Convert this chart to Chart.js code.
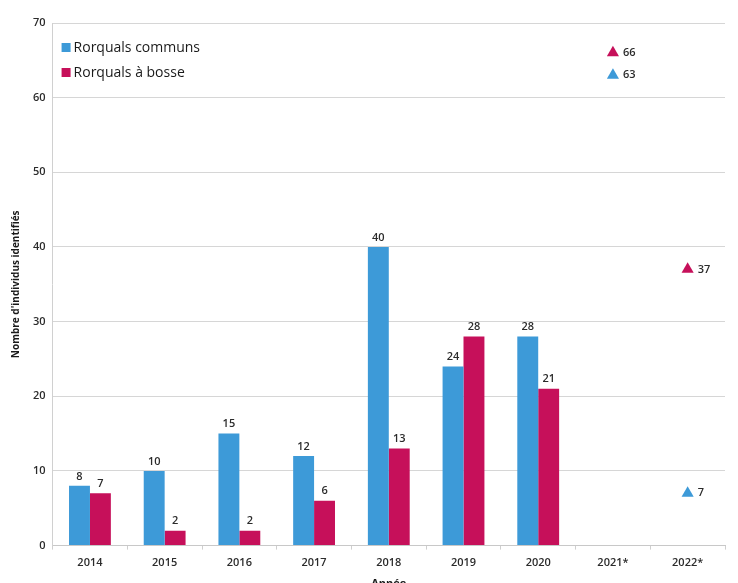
<!DOCTYPE html>
<html>
<head>
<meta charset="utf-8">
<script src="https://cdn.jsdelivr.net/npm/chart.js@4.4.0/dist/chart.umd.min.js"></script>
<style>
  html, body { margin: 0; padding: 0; background: #ffffff; overflow: hidden; }
  #wrap { width: 738px; height: 590px; position: relative; }
</style>
</head>
<body>
<div id="wrap"><canvas id="c"></canvas></div>
<script>
const categories = ['2014', '2015', '2016', '2017', '2018', '2019', '2020', '2021*', '2022*'];
const communs = [8, 10, 15, 12, 40, 24, 28, null, null];
const bosse = [7, 2, 2, 6, 13, 28, 21, null, null];
const communsEstim = [null, null, null, null, null, null, null, 63, 7];
const bosseEstim = [null, null, null, null, null, null, null, 66, 37];
const seriesNames = ['Rorquals communs', 'Rorquals à bosse'];
const yTicks = [0, 10, 20, 30, 40, 50, 60, 70];

const BLUE = '#3d9ad8';
const MAGENTA = '#c6105a';
const FONT = "'Open Sans', 'Liberation Sans', sans-serif";

const valueLabels = {
  id: 'valueLabels',
  afterDatasetsDraw(chart) {
    const ctx = chart.ctx;
    ctx.save();
    ctx.font = '600 11px ' + FONT;
    ctx.fillStyle = '#2b2b2b';
    chart.data.datasets.forEach((ds, di) => {
      const meta = chart.getDatasetMeta(di);
      meta.data.forEach((el, i) => {
        const v = ds.data[i];
        if (v === null || v === undefined) return;
        if (meta.type === 'bar') {
          ctx.textAlign = 'center';
          ctx.textBaseline = 'bottom';
          ctx.fillText(String(v), el.x, el.y - 4);
        } else {
          ctx.textAlign = 'left';
          ctx.textBaseline = 'middle';
          ctx.fillText(String(v), el.x + 10, el.y);
        }
      });
    });
    ctx.restore();
  }
};

const customLegend = {
  id: 'customLegend',
  afterDraw(chart) {
    const ctx = chart.ctx;
    const a = chart.chartArea;
    ctx.save();
    ctx.font = '14px ' + FONT;
    ctx.textBaseline = 'middle';
    ctx.textAlign = 'left';
    const cols = [BLUE, MAGENTA];
    seriesNames.forEach((n, i) => {
      const y = a.top + 25 + i * 25;
      ctx.fillStyle = cols[i];
      ctx.fillRect(a.left + 9, y - 5, 9, 9);
      ctx.fillStyle = '#1a1a1a';
      ctx.fillText(n, a.left + 21, y);
    });
    ctx.restore();
  }
};

new Chart(document.getElementById('c'), {
  data: {
    labels: categories,
    datasets: [
      { type: 'bar', label: seriesNames[0], data: communs, backgroundColor: BLUE,
        barPercentage: 1.0, categoryPercentage: 0.56 },
      { type: 'bar', label: seriesNames[1], data: bosse, backgroundColor: MAGENTA,
        barPercentage: 1.0, categoryPercentage: 0.56 },
      { type: 'line', label: seriesNames[1] + ' (estim.)', data: bosseEstim, showLine: false,
        pointStyle: 'triangle', pointRadius: 7, pointHoverRadius: 7,
        backgroundColor: MAGENTA, borderColor: MAGENTA, borderWidth: 0 },
      { type: 'line', label: seriesNames[0] + ' (estim.)', data: communsEstim, showLine: false,
        pointStyle: 'triangle', pointRadius: 7, pointHoverRadius: 7,
        backgroundColor: BLUE, borderColor: BLUE, borderWidth: 0 }
    ]
  },
  options: {
    responsive: true,
    maintainAspectRatio: false,
    animation: false,
    layout: { padding: { top: 23, right: 13, left: 10, bottom: 0 } },
    plugins: {
      legend: { display: false },
      tooltip: { enabled: false }
    },
    scales: {
      x: {
        offset: true,
        grid: { display: true, drawOnChartArea: false, drawTicks: true, tickLength: 4, color: '#cfcfcf', offset: true },
        border: { display: true, color: '#c8c8c8' },
        ticks: { color: '#2b2b2b', font: { family: FONT, size: 11, weight: '600' }, padding: 7 },
        title: { display: true, text: 'Année', color: '#1a1a1a', font: { family: FONT, size: 11, weight: 'bold' }, padding: { top: 0, bottom: 0 } }
      },
      y: {
        min: 0, max: 70,
        afterBuildTicks(scale) { scale.ticks = yTicks.map(v => ({ value: v })); },
        grid: { color: '#d6d6d6', drawTicks: false },
        border: { display: true, color: '#d0d0d0' },
        ticks: { color: '#2b2b2b', font: { family: FONT, size: 11, weight: '600' }, padding: 7 },
        title: { display: true, text: "Nombre d'individus identifiés", color: '#1a1a1a', font: { family: FONT, size: 10, weight: 'bold' }, padding: { top: 0, bottom: 4 } }
      }
    }
  },
  plugins: [valueLabels, customLegend]
});
</script>
</body>
</html>
